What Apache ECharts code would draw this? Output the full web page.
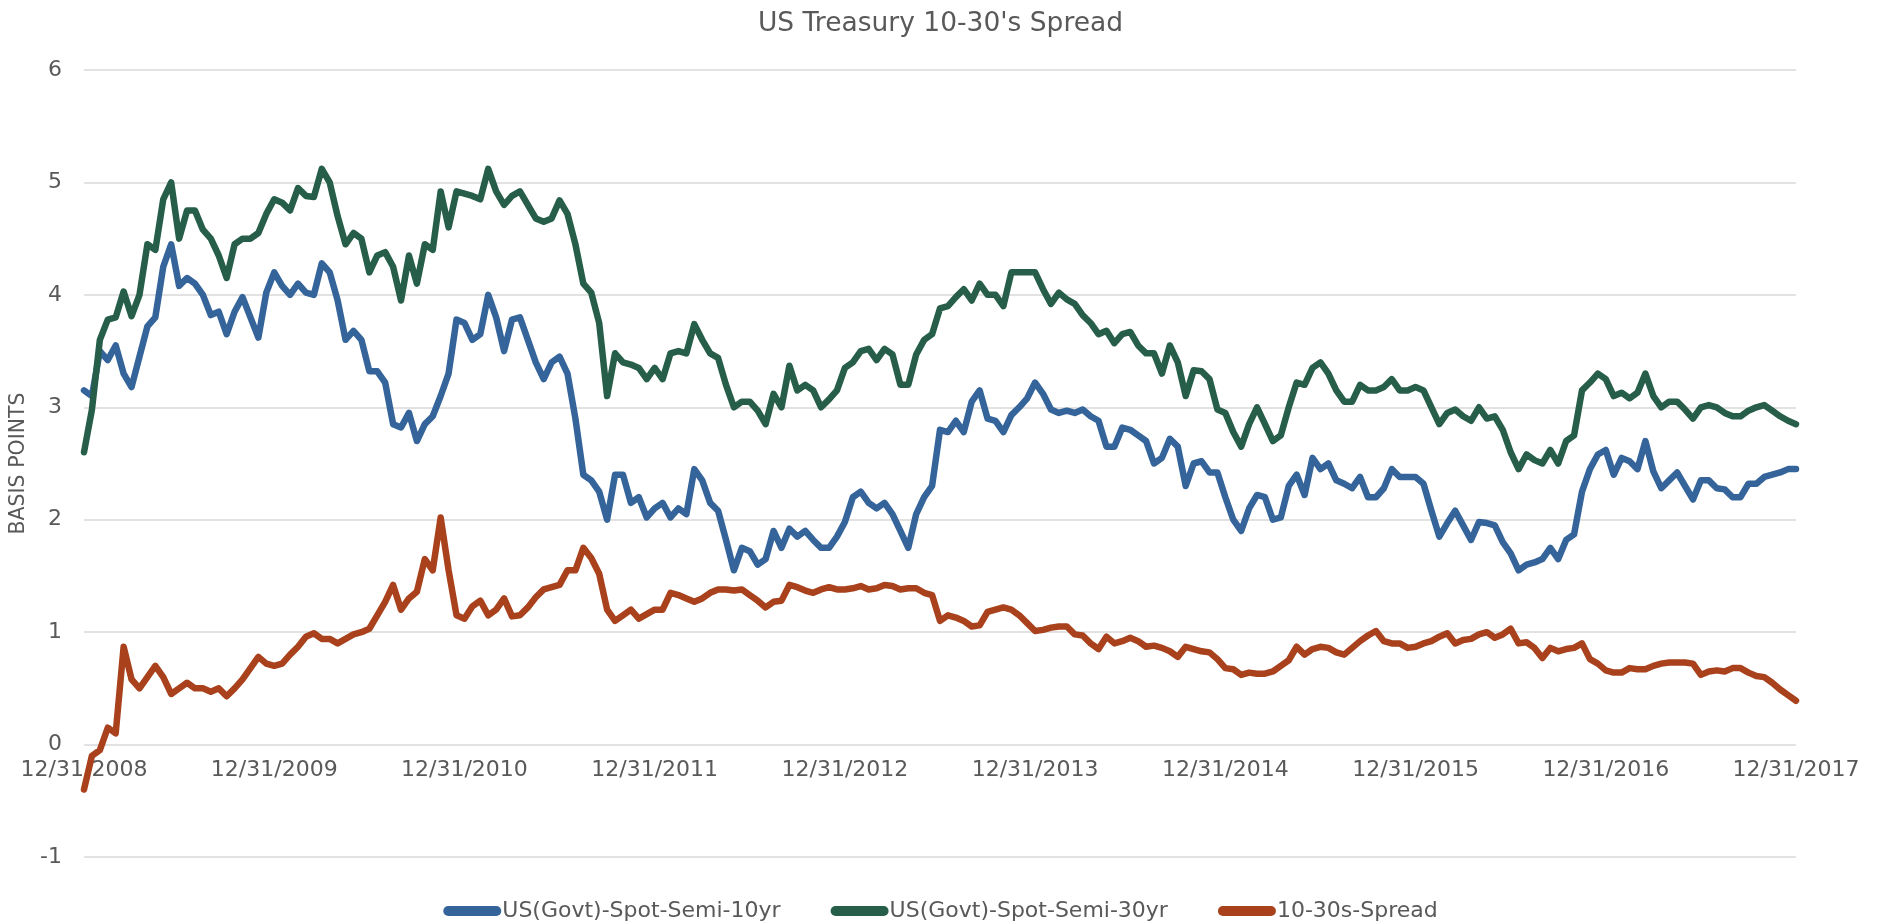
<!DOCTYPE html>
<html>
<head>
<meta charset="utf-8">
<script src="https://cdn.jsdelivr.net/npm/echarts@6/dist/echarts.min.js"></script>
<style>
html,body{margin:0;padding:0;background:#fff;}
#chart{width:1881px;height:924px;}
</style>
</head>
<body>
<div id="chart"></div>
<script>
// Tick labels on the x axis (one per year end)
const tickLabels = ["12/31/2008","12/31/2009","12/31/2010","12/31/2011","12/31/2012","12/31/2013","12/31/2014","12/31/2015","12/31/2016","12/31/2017"];

// Semi-monthly observations (mid-month and month-end), starting 12/31/2008
const y10 = [3.15,
 3.1,3.5,3.42,3.55,3.3,3.18,3.45,3.72,3.8,4.25,4.45,4.08,4.15,4.1,4.0,3.82,3.85,3.65,3.85,3.98,3.8,3.62,4.02,4.2,
 4.08,4.0,4.1,4.02,4.0,4.28,4.2,3.95,3.6,3.68,3.6,3.32,3.32,3.22,2.85,2.82,2.95,2.7,2.85,2.92,3.1,3.3,3.78,3.75,
 3.6,3.65,4.0,3.8,3.5,3.78,3.8,3.6,3.4,3.25,3.4,3.45,3.3,2.9,2.4,2.35,2.25,2.0,2.4,2.4,2.15,2.2,2.02,2.1,
 2.15,2.02,2.1,2.05,2.45,2.35,2.15,2.08,1.82,1.55,1.75,1.72,1.6,1.65,1.9,1.75,1.92,1.85,1.9,1.82,1.75,1.75,1.85,1.98,
 2.2,2.25,2.15,2.1,2.15,2.05,1.9,1.75,2.05,2.2,2.3,2.8,2.78,2.88,2.78,3.05,3.15,2.9,2.88,2.78,2.93,3.0,3.08,3.22,
 3.12,2.98,2.95,2.97,2.95,2.98,2.92,2.88,2.65,2.65,2.82,2.8,2.75,2.7,2.5,2.55,2.72,2.65,2.3,2.5,2.52,2.42,2.42,2.2,
 2.0,1.9,2.1,2.22,2.2,2.0,2.02,2.3,2.4,2.22,2.55,2.45,2.5,2.35,2.32,2.28,2.38,2.2,2.2,2.28,2.45,2.38,2.38,2.38,
 2.32,2.08,1.85,1.97,2.08,1.95,1.82,1.98,1.97,1.95,1.8,1.7,1.55,1.6,1.62,1.65,1.75,1.65,1.82,1.87,2.25,2.45,2.58,2.62,
 2.4,2.55,2.52,2.45,2.7,2.43,2.28,2.35,2.42,2.3,2.18,2.35,2.35,2.28,2.27,2.2,2.2,2.32,2.32,2.38,2.4,2.42,2.45,2.45];

const y30 = [2.6,
 2.98,3.6,3.78,3.8,4.03,3.81,4.0,4.45,4.4,4.85,5.0,4.5,4.75,4.75,4.58,4.5,4.35,4.15,4.45,4.5,4.5,4.55,4.72,4.85,
 4.82,4.75,4.95,4.88,4.87,5.12,5.0,4.7,4.45,4.55,4.5,4.2,4.35,4.38,4.25,3.95,4.35,4.1,4.45,4.4,4.92,4.6,4.92,4.9,
 4.88,4.85,5.12,4.92,4.8,4.88,4.92,4.8,4.68,4.65,4.68,4.84,4.72,4.45,4.1,4.02,3.75,3.1,3.48,3.4,3.38,3.35,3.25,3.35,
 3.25,3.48,3.5,3.48,3.74,3.6,3.48,3.44,3.2,3.0,3.05,3.05,2.97,2.85,3.12,3.0,3.37,3.15,3.2,3.15,3.0,3.07,3.15,3.35,
 3.4,3.5,3.52,3.42,3.52,3.47,3.2,3.2,3.47,3.6,3.65,3.88,3.9,3.98,4.05,3.95,4.1,4.0,4.0,3.9,4.2,4.2,4.2,4.2,
 4.05,3.92,4.02,3.96,3.92,3.82,3.75,3.65,3.68,3.57,3.65,3.67,3.55,3.48,3.48,3.3,3.55,3.4,3.1,3.33,3.32,3.25,2.98,2.95,
 2.78,2.65,2.85,3.0,2.85,2.7,2.75,3.0,3.22,3.2,3.35,3.4,3.3,3.15,3.05,3.05,3.2,3.15,3.15,3.18,3.25,3.15,3.15,3.18,
 3.15,3.0,2.85,2.95,2.98,2.92,2.88,3.0,2.9,2.92,2.8,2.6,2.45,2.58,2.53,2.5,2.62,2.5,2.7,2.75,3.15,3.22,3.3,3.25,
 3.1,3.13,3.08,3.13,3.3,3.1,3.0,3.05,3.05,2.98,2.9,3.0,3.02,3.0,2.95,2.92,2.92,2.97,3.0,3.02,2.97,2.92,2.88,2.85];

const spread = [-0.4,
 -0.1,-0.05,0.15,0.1,0.87,0.58,0.5,0.6,0.7,0.6,0.45,0.5,0.55,0.5,0.5,0.47,0.5,0.43,0.5,0.58,0.68,0.78,0.72,0.7,
 0.72,0.8,0.87,0.96,0.99,0.94,0.94,0.9,0.94,0.98,1.0,1.03,1.15,1.27,1.42,1.2,1.3,1.36,1.65,1.55,2.02,1.55,1.15,1.12,
 1.23,1.28,1.15,1.2,1.3,1.14,1.15,1.22,1.31,1.38,1.4,1.42,1.55,1.55,1.75,1.66,1.52,1.2,1.1,1.15,1.2,1.12,1.16,1.2,
 1.2,1.35,1.33,1.3,1.27,1.3,1.35,1.38,1.38,1.37,1.38,1.33,1.28,1.22,1.27,1.28,1.42,1.4,1.37,1.35,1.38,1.4,1.38,1.38,
 1.39,1.41,1.38,1.39,1.42,1.41,1.38,1.39,1.39,1.35,1.33,1.1,1.15,1.13,1.1,1.05,1.06,1.18,1.2,1.22,1.2,1.15,1.08,1.01,
 1.02,1.04,1.05,1.05,0.98,0.97,0.9,0.85,0.96,0.9,0.92,0.95,0.92,0.87,0.88,0.86,0.83,0.78,0.87,0.85,0.83,0.82,0.76,0.68,
 0.67,0.62,0.64,0.63,0.63,0.65,0.7,0.75,0.87,0.8,0.85,0.87,0.86,0.82,0.8,0.86,0.92,0.97,1.01,0.92,0.9,0.9,0.86,0.87,
 0.9,0.92,0.96,0.99,0.9,0.93,0.94,0.98,1.0,0.95,0.98,1.03,0.9,0.91,0.86,0.77,0.86,0.83,0.85,0.86,0.9,0.76,0.72,0.66,
 0.64,0.64,0.68,0.67,0.67,0.7,0.72,0.73,0.73,0.73,0.72,0.62,0.65,0.66,0.65,0.68,0.68,0.64,0.61,0.6,0.55,0.49,0.44,0.39];

const seriesNames = ["US(Govt)-Spot-Semi-10yr","US(Govt)-Spot-Semi-30yr","10-30s-Spread"];

// Category dates: 12/31/2008, then the 15th and last day of each month
const dates = ["12/31/2008"];
for (let y = 2009; y <= 2017; y++) {
  for (let m = 1; m <= 12; m++) {
    const last = new Date(y, m, 0).getDate();
    dates.push(m + "/15/" + y);
    dates.push(m + "/" + last + "/" + y);
  }
}

const FONT = "DejaVu Sans";
const TXT = "#595959";
const GRID_TOP = 70, GRID_BOTTOM = 67, H = 924;
const Y_MIN = -1, Y_MAX = 6;
const unitPx = (H - GRID_TOP - GRID_BOTTOM) / (Y_MAX - Y_MIN);
const chart = echarts.init(document.getElementById('chart'), null, {renderer: 'canvas'});
const capsule = 'path://M5,0H53A5,5,0,0,1,53,10H5A5,5,0,0,1,5,0Z';
chart.setOption({
  animation: false,
  backgroundColor: '#ffffff',
  title: {
    text: "US Treasury 10-30's Spread",
    left: 'center', top: 6,
    textStyle: {fontFamily: FONT, fontSize: 26.5, fontWeight: 'normal', color: TXT}
  },
  legend: {
    top: 895, left: 'center',
    icon: capsule, itemWidth: 58, itemHeight: 10, itemGap: 50,
    textStyle: {fontFamily: FONT, fontSize: 22, color: TXT, padding: [0,0,0,-4]},
    data: seriesNames
  },
  grid: {left: 84, right: 85, top: GRID_TOP, bottom: GRID_BOTTOM, containLabel: false},
  xAxis: {
    type: 'category', data: dates, boundaryGap: false,
    position: 'bottom',
    offset: -(0 - Y_MIN) * unitPx,
    axisLine: {show: false, onZero: false},
    axisTick: {show: false},
    axisLabel: {
      interval: 23, margin: 15, color: TXT, fontFamily: FONT, fontSize: 22,
      formatter: function (v, i) { return tickLabels[i / 24]; }
    },
    splitLine: {show: false}
  },
  yAxis: {
    type: 'value', min: Y_MIN, max: Y_MAX, interval: 1,
    name: 'BASIS POINTS', nameLocation: 'middle', nameGap: 52, nameRotate: 90,
    nameTextStyle: {fontFamily: FONT, fontSize: 20.5, color: TXT},
    axisLine: {show: false}, axisTick: {show: false},
    axisLabel: {margin: 22, color: TXT, fontFamily: FONT, fontSize: 22},
    splitLine: {lineStyle: {color: '#d9d9d9', width: 1.5}}
  },
  series: [
    {name: seriesNames[0], type: 'line', data: y10, showSymbol: false, symbol: 'none',
     lineStyle: {color: '#34649A', width: 6.5, cap: 'round', join: 'round'}, itemStyle: {color: '#34649A'}},
    {name: seriesNames[1], type: 'line', data: y30, showSymbol: false, symbol: 'none',
     lineStyle: {color: '#275E4A', width: 6.5, cap: 'round', join: 'round'}, itemStyle: {color: '#275E4A'}},
    {name: seriesNames[2], type: 'line', data: spread, showSymbol: false, symbol: 'none',
     lineStyle: {color: '#A8411C', width: 6.5, cap: 'round', join: 'round'}, itemStyle: {color: '#A8411C'}}
  ]
});
</script>
</body>
</html>
